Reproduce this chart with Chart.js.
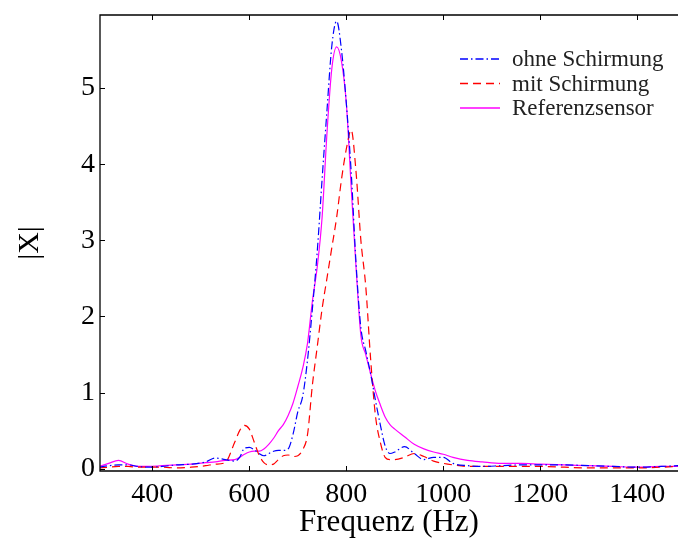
<!DOCTYPE html>
<html>
<head>
<meta charset="utf-8">
<title>|X| über Frequenz</title>
<script src="https://cdn.jsdelivr.net/npm/chart.js@4.4.1/dist/chart.umd.min.js"></script>
<style>
  html, body { margin: 0; padding: 0; background: #fff; }
  #wrap { width: 678px; height: 541px; position: relative; }
</style>
</head>
<body>
<div id="wrap"><canvas id="chart"></canvas></div>
<script>
// ======= DATA =======
const freqs = [
  290, 310, 330, 350, 370, 390, 420, 450, 480, 510, 530, 550, 570, 580, 590,
  600, 610, 620, 630, 640, 650, 660, 670, 680, 690, 700, 710, 720, 730, 740,
  750, 760, 770, 780, 790, 800, 810, 820, 830, 840, 850, 860, 870, 880, 890,
  900, 920, 940, 960, 980, 1000, 1020, 1050, 1080, 1120, 1160, 1200, 1250,
  1300, 1350, 1400, 1450, 1485
];

// ohne Schirmung (blue, dash-dot)
const ohne = [
  0.02, 0.04, 0.05, 0.05, 0.03, 0.02, 0.03, 0.05, 0.06, 0.09, 0.14, 0.12, 0.10, 0.15, 0.27,
  0.28, 0.25, 0.20, 0.17, 0.20, 0.23, 0.24, 0.24, 0.26, 0.45, 0.75, 0.95, 1.43, 2.1, 2.85,
  3.8, 4.7, 5.55, 5.88, 5.5, 4.8, 3.9, 2.7, 1.85, 1.55, 1.25, 0.9, 0.58, 0.30, 0.20,
  0.22, 0.29, 0.20, 0.12, 0.15, 0.15, 0.07, 0.04, 0.03, 0.04, 0.05, 0.05, 0.05,
  0.04, 0.03, 0.02, 0.03, 0.04
];

// mit Schirmung (red, dashed)
const mit = [
  0.01, 0.02, 0.03, 0.03, 0.02, 0.02, 0.02, 0.01, 0.02, 0.04, 0.06, 0.08, 0.35, 0.50, 0.57,
  0.52, 0.35, 0.18, 0.08, 0.05, 0.06, 0.12, 0.17, 0.18, 0.16, 0.17, 0.25, 0.45, 1.1, 1.6,
  2.1, 2.5, 2.9, 3.3, 3.8, 4.2, 4.45, 3.9, 3.0, 2.4, 1.45, 0.7, 0.35, 0.15, 0.12,
  0.12, 0.15, 0.20, 0.16, 0.10, 0.07, 0.05, 0.03, 0.03, 0.03, 0.03, 0.03, 0.02,
  0.01, 0.01, 0.01, 0.02, 0.03
];

// Referenzsensor (magenta, solid)
const referenz = [
  0.03, 0.07, 0.11, 0.06, 0.03, 0.03, 0.04, 0.05, 0.06, 0.08, 0.09, 0.11, 0.12, 0.15, 0.19,
  0.22, 0.23, 0.23, 0.26, 0.32, 0.40, 0.50, 0.58, 0.70, 0.86, 1.08, 1.32, 1.65, 2.2, 2.65,
  3.3, 4.4, 5.25, 5.54, 5.35, 4.8, 3.7, 2.65, 1.75, 1.5, 1.25, 1.02, 0.84, 0.68, 0.58,
  0.52, 0.42, 0.32, 0.26, 0.22, 0.19, 0.15, 0.11, 0.09, 0.07, 0.07, 0.06, 0.05,
  0.04, 0.03, 0.02, 0.03, 0.03
];

const xTicks = [400, 600, 800, 1000, 1200, 1400];
const yTicks = [0, 1, 2, 3, 4, 5];
const labels = ["ohne Schirmung", "mit Schirmung", "Referenzsensor"];

// ======= CHART =======
const FONT = "'Liberation Serif', 'Times New Roman', serif";
Chart.defaults.font.family = FONT;
Chart.defaults.color = "#000";

const pts = (ys) => freqs.map((f, i) => ({ x: f, y: ys[i] }));

// frame + inward tick marks, like the original plot
const framePlugin = {
  id: "frame",
  afterDraw(chart) {
    const { ctx, chartArea: a, scales } = chart;
    ctx.save();
    ctx.strokeStyle = "#000";
    ctx.lineWidth = 1.3;
    ctx.beginPath();
    ctx.moveTo(a.right, a.top);
    ctx.lineTo(a.left, a.top);
    ctx.lineTo(a.left, a.bottom);
    ctx.lineTo(a.right, a.bottom);
    ctx.stroke();
    ctx.lineWidth = 1;
    ctx.beginPath();
    xTicks.forEach((v) => {
      const px = Math.round(scales.x.getPixelForValue(v)) + 0.5;
      ctx.moveTo(px, a.bottom);
      ctx.lineTo(px, a.bottom - 5);
      ctx.moveTo(px, a.top);
      ctx.lineTo(px, a.top + 5);
    });
    yTicks.forEach((v) => {
      const py = Math.round(scales.y.getPixelForValue(v)) + 0.5;
      ctx.moveTo(a.left, py);
      ctx.lineTo(a.left + 5, py);
    });
    ctx.stroke();
    ctx.restore();
  },
};

// legend in the upper right, no box
const legendPlugin = {
  id: "lineLegend",
  afterDraw(chart) {
    const { ctx } = chart;
    ctx.save();
    chart.data.datasets.forEach((ds, i) => {
      const y = 59 + i * 24.5;
      ctx.strokeStyle = ds.borderColor;
      ctx.lineWidth = 1.3;
      ctx.setLineDash(ds.borderDash || []);
      ctx.beginPath();
      ctx.moveTo(460, y);
      ctx.lineTo(500, y);
      ctx.stroke();
      ctx.setLineDash([]);
      ctx.fillStyle = "#222";
      ctx.font = "23px " + FONT;
      ctx.textBaseline = "middle";
      ctx.fillText(ds.label, 512, y + 1);
    });
    ctx.restore();
  },
};

const lineStyle = {
  borderWidth: 1.2,
  pointRadius: 0,
  fill: false,
  cubicInterpolationMode: "monotone",
};

new Chart(document.getElementById("chart"), {
  type: "line",
  data: {
    datasets: [
      {
        ...lineStyle,
        label: labels[0],
        data: pts(ohne),
        borderColor: "#0000ff",
        borderDash: [8, 3, 1.5, 3],
      },
      {
        ...lineStyle,
        label: labels[1],
        data: pts(mit),
        borderColor: "#ff0000",
        borderDash: [8, 5],
      },
      {
        ...lineStyle,
        label: labels[2],
        data: pts(referenz),
        borderColor: "#ff00ff",
      },
    ],
  },
  options: {
    responsive: true,
    maintainAspectRatio: false,
    animation: false,
    layout: { padding: { top: 15, right: 0, left: 0, bottom: 0 } },
    plugins: {
      legend: { display: false },
      tooltip: { enabled: false },
    },
    scales: {
      x: {
        type: "linear",
        min: 292,
        max: 1484,
        afterBuildTicks: (s) => { s.ticks = xTicks.map((v) => ({ value: v })); },
        afterFit: (s) => { s.height = 70; s.paddingLeft = 0; s.paddingRight = 0; },
        grid: { display: false, drawTicks: false },
        border: { display: false },
        ticks: { font: { size: 28 }, padding: 7, maxRotation: 0, callback: (v) => String(v) },
        title: {
          display: true,
          text: "Frequenz (Hz)",
          font: { size: 31 },
          padding: { top: 0, bottom: 0 },
        },
      },
      y: {
        min: -0.03,
        max: 5.96,
        afterBuildTicks: (s) => { s.ticks = yTicks.map((v) => ({ value: v })); },
        afterFit: (s) => { s.width = 100; s.paddingTop = 0; s.paddingBottom = 0; },
        grid: { display: false, drawTicks: false },
        border: { display: false },
        ticks: { font: { size: 28 }, padding: 5, callback: (v) => String(v) },
        title: {
          display: true,
          text: "|X|",
          font: { size: 30 },
          padding: { top: 12, bottom: 0 },
        },
      },
    },
  },
  plugins: [framePlugin, legendPlugin],
});
</script>
</body>
</html>
